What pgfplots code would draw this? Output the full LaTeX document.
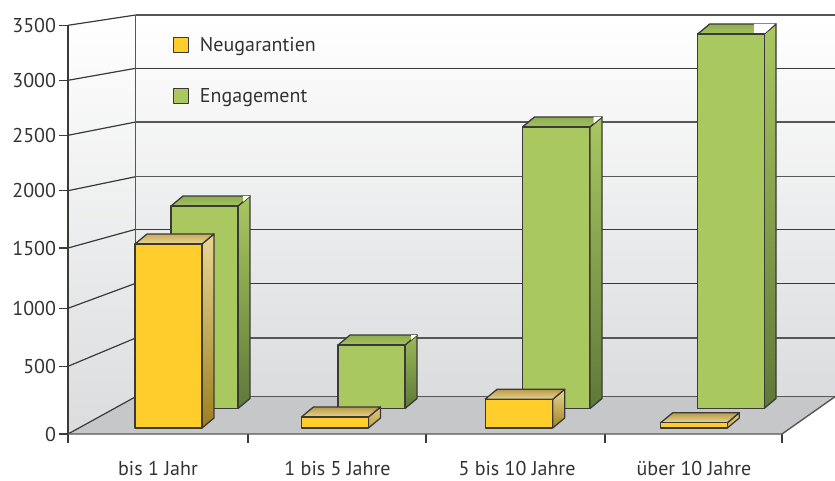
\documentclass[border=0pt]{standalone}
\usepackage{fontspec}
\setmainfont{PT Sans}
\usepackage{pgfplots}
\pgfplotsset{compat=1.18}
\definecolor{ln}{HTML}{3A3A38}
\definecolor{txt}{HTML}{333333}
\definecolor{yel}{HTML}{FFCD2C}
\definecolor{grn}{HTML}{A9C860}
\definecolor{flr}{HTML}{C6C7C9}
\definecolor{wallmid}{HTML}{EDEEEF}
\definecolor{wallbot}{HTML}{DBDCDE}
\newcommand\hexc[1]{\definecolor{c#1}{HTML}{#1}}
\hexc{8FAD52}\hexc{A3C25C}\hexc{A9C860}\hexc{94B056}\hexc{5E7938}\hexc{9BB95A}\hexc{7E9A48}\hexc{8DAA52}
\hexc{C9AC5C}\hexc{EAD794}\hexc{C9AE58}\hexc{9C7F1E}\hexc{B89B4A}\hexc{E8D590}\hexc{E0C878}\hexc{D4BA68}\hexc{C0A348}\hexc{A0831F}\hexc{E4CE80}\hexc{D8BE6C}\hexc{C8AC50}
\pgfplotsset{
  base/.style={scale only axis,width=767pt,height=419pt,xmin=68,xmax=835,clip=false,no markers,
    every axis plot/.append style={forget plot,line join=round}},
  edge/.style={draw=ln,line width=1.3pt},
}
% \cube{x left}{x right}{value}{depth in value units}{top back}{top front}{side top}{side mid}{side bottom}
\newcommand\cube[9]{%
  \pgfmathsetmacro\vb{#3+#4}%
  \pgfmathsetmacro\xrb{#2+12}%
  \pgfmathsetmacro\xlb{#1+12}%
  \addplot[edge,shade,top color=c#7,middle color=c#8,bottom color=c#9] coordinates {(#2,0) (\xrb,#4) (\xrb,\vb) (#2,#3) (#2,0)};
  \addplot[edge,shade,top color=c#5,bottom color=c#6] coordinates {(#1,#3) (#2,#3) (\xrb,\vb) (\xlb,\vb) (#1,#3)};
}
\begin{document}
\begin{tikzpicture}
\path[use as bounding box] (-68pt,-46pt) rectangle (767pt,434pt);
% walls, floor, grid, ticks, legend
\begin{axis}[base,ymin=46,ymax=465,
  font=\fontsize{20}{22}\selectfont,
  axis line style={draw=none},
  tick align=outside,
  major tick length=8.5pt,
  tick style={ln,line width=1.2pt},
  ytick={46,113.7,171.7,232,289.3,344.7,399.7,454.7},
  yticklabels={0,500,1000,1500,2000,2500,3000,3500},
  ytick pos=left,
  xtick pos=bottom,
  xtick={68,248,426,605,782},
  xticklabels={},
  extra x ticks={158,337.5,517,694},
  extra x tick labels={bis 1 Jahr,1 bis 5 Jahre,5 bis 10 Jahre,über 10 Jahre},
  extra x tick style={tick style={draw=none}},
  xticklabel style={text=txt,inner sep=0pt,yshift=-18.5pt},
  yticklabel style={text=txt,xshift=0pt},
  /pgf/number format/assume math mode=true,
  legend cell align=left,
  legend style={at={(axis cs:173,445)},anchor=north west,draw=none,fill=none,inner sep=0pt,
    row sep=31.5pt,font=\fontsize{20}{22}\selectfont\color{txt}},
]
\addplot[draw=none,shade,top color=white,middle color=wallmid,bottom color=wallbot] coordinates {(68,454.7) (135.7,465) (135.7,83.3) (68,46) (68,454.7)};
\addplot[draw=none,shade,top color=white,middle color=wallmid,bottom color=wallbot] coordinates {(135.7,465) (835,465) (835,83.3) (135.7,83.3) (135.7,465)};
\addplot[draw=none,fill=flr] coordinates {(68,46) (135.7,83.3) (835,83.3) (782,46) (68,46)};
% grid on the back wall
\addplot[ln!85!white,line width=1.2pt] coordinates {(135.7,465) (835,465)};
\addplot[ln,line width=1.2pt] coordinates {(135.7,411.7) (835,411.7)};
\addplot[ln!85!white,line width=1.2pt] coordinates {(135.7,358) (835,358)};
\addplot[ln!85!white,line width=1.2pt] coordinates {(135.7,303.3) (835,303.3)};
\addplot[ln,line width=1.2pt] coordinates {(135.7,250.7) (835,250.7)};
\addplot[ln,line width=1.2pt] coordinates {(135.7,196.7) (835,196.7)};
\addplot[ln!85!white,line width=1.2pt] coordinates {(135.7,142) (835,142)};
\addplot[ln!85!white,line width=1.3pt] coordinates {(135.7,83.3) (835,83.3)};
% grid on the side wall
\addplot[ln,line width=1.2pt] coordinates {(68,454.7) (135.7,465)};
\addplot[ln,line width=1.2pt] coordinates {(68,399.7) (135.7,411.7)};
\addplot[ln,line width=1.2pt] coordinates {(68,344.7) (135.7,358)};
\addplot[ln,line width=1.2pt] coordinates {(68,289.3) (135.7,303.3)};
\addplot[ln,line width=1.2pt] coordinates {(68,232) (135.7,250.7)};
\addplot[ln,line width=1.2pt] coordinates {(68,171.7) (135.7,196.7)};
\addplot[ln,line width=1.2pt] coordinates {(68,113.7) (135.7,142)};
\addplot[ln,line width=1.2pt] coordinates {(68,46) (135.7,83.3)};
% frame
\addplot[ln!85!white,line width=1.3pt] coordinates {(135.7,465) (135.7,83.3)};
\addplot[ln,line width=1.6pt] coordinates {(68,454.7) (68,46)};
\addplot[ln!85!white,line width=1.4pt] coordinates {(68,46) (782,46) (835,83.3)};
\addlegendimage{legend image code/.code={\draw[draw=ln,line width=1.1pt,fill=yel] (0pt,-7.5pt) rectangle (15pt,7.5pt);\path (24pt,0pt);}}
\addlegendentry{Neugarantien}
\addlegendimage{legend image code/.code={\draw[draw=ln,line width=1.1pt,fill=grn] (0pt,-7.5pt) rectangle (15pt,7.5pt);\path (24pt,0pt);}}
\addlegendentry{Engagement}
\end{axis}
% Engagement
\begin{axis}[base,hide axis,ymin=-231.5,ymax=3572.4]
\cube{171}{238}{1838}{90.8}{8FAD52}{A3C25C}{A9C860}{94B056}{5E7938}
\addplot[draw=none,fill=white] coordinates {(243,1876) (250,1929) (243,1929) (243,1876)};
\cube{338}{405}{576}{90.8}{8FAD52}{A3C25C}{9BB95A}{7E9A48}{5E7938}
\addplot[draw=none,fill=white] coordinates {(411,621) (417,667) (411,667) (411,621)};
\cube{522.5}{590}{2556}{90.8}{8FAD52}{A3C25C}{A9C860}{8DAA52}{5E7938}
\addplot[draw=none,fill=white] coordinates {(593.5,2586) (601.5,2647) (593.5,2647) (593.5,2586)};
\cube{697.7}{764}{3400}{90.8}{8FAD52}{A3C25C}{A9C860}{8DAA52}{5E7938}
\addplot[draw=none,fill=white] coordinates {(754,3400) (764,3400) (775,3490.8) (754,3490.8) (754,3400)};
\addplot[edge,ybar,bar width=67,bar shift=0pt,fill=grn] coordinates {(204.5,1838) (371.5,576) (556.25,2556) (730.85,3400)};
\end{axis}
% Neugarantien
\begin{axis}[base,hide axis,ymin=-48.9,ymax=3366.8]
\cube{135}{202}{1500}{81.5}{C9AC5C}{EAD794}{EAD794}{C9AE58}{9C7F1E}
\cube{301.5}{368.5}{90}{81.5}{B89B4A}{E8D590}{E0C878}{D4BA68}{C0A348}
\cube{485}{552.7}{234}{81.5}{B89B4A}{E8D590}{E8D590}{C9AE58}{A0831F}
\cube{660.7}{727.3}{43}{81.5}{B89B4A}{E8D590}{E4CE80}{D8BE6C}{C8AC50}
\addplot[edge,ybar,bar width=67,bar shift=0pt,fill=yel] coordinates {(168.5,1500) (335,90) (518.85,234) (694,43)};
\end{axis}
\end{tikzpicture}
\end{document}
